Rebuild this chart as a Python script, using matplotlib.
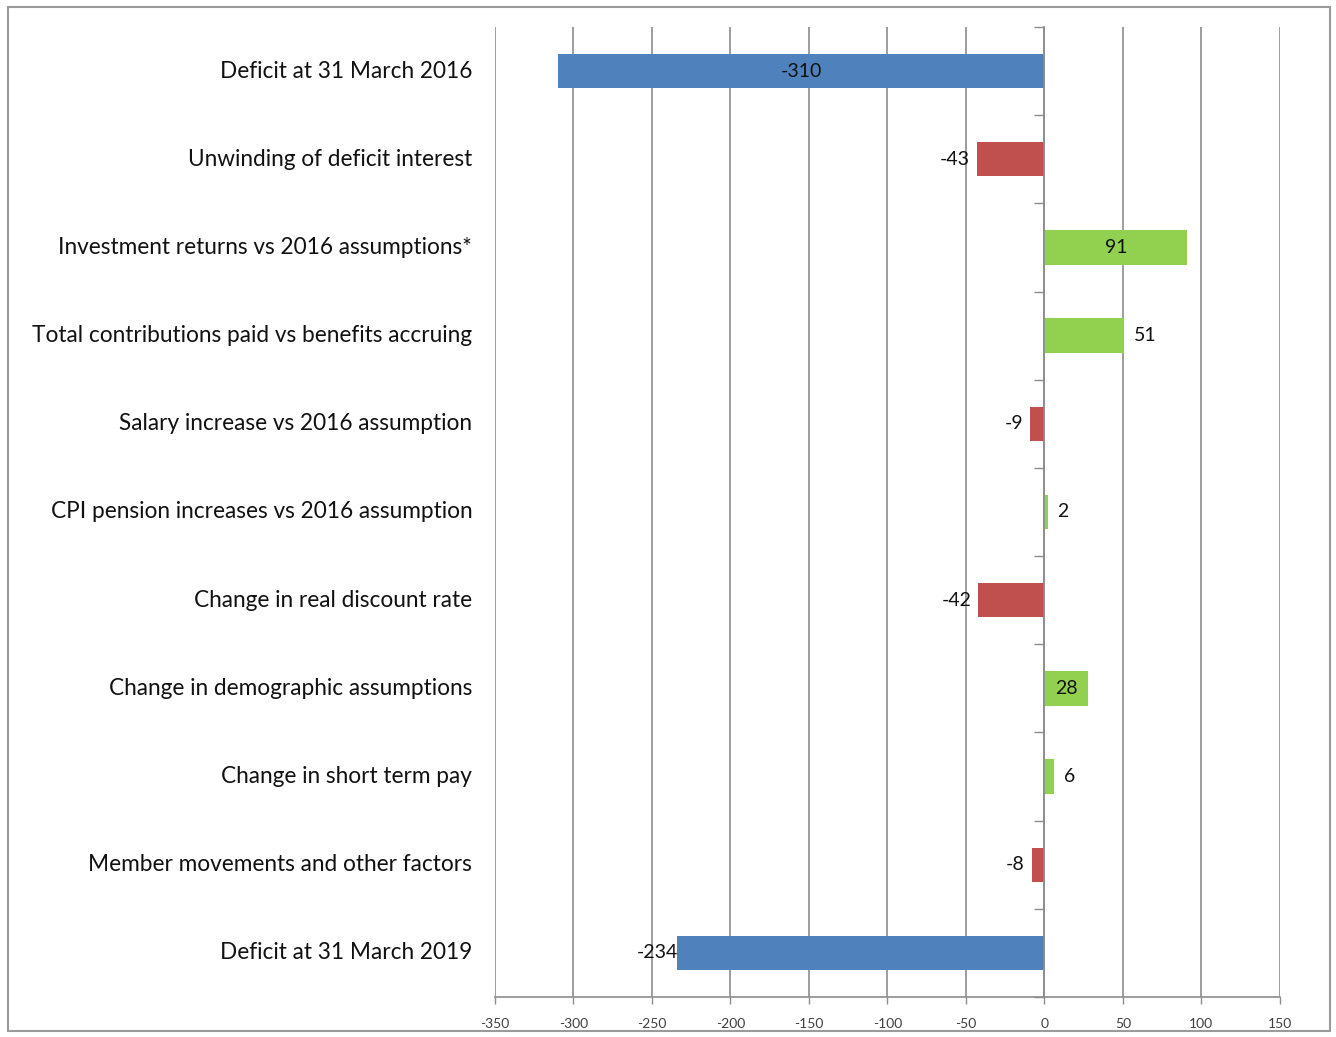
import matplotlib
matplotlib.use("Agg")
import matplotlib.pyplot as plt
import numpy as np
from matplotlib.patches import Rectangle

categories = [
    "Deficit at 31 March 2016",
    "Unwinding of deficit interest",
    "Investment returns vs 2016 assumptions*",
    "Total contributions paid vs benefits accruing",
    "Salary increase vs 2016 assumption",
    "CPI pension increases vs 2016 assumption",
    "Change in real discount rate",
    "Change in demographic assumptions",
    "Change in short term pay",
    "Member movements and other factors",
    "Deficit at 31 March 2019",
]
values = [-310, -43, 91, 51, -9, 2, -42, 28, 6, -8, -234]
kinds = ["total", "change", "change", "change", "change", "change",
         "change", "change", "change", "change", "total"]
# where Excel put each data label
label_pos = ["center", "out", "center", "out", "out", "out",
             "out", "center", "out", "out", "end"]
x_ticks = [-350, -300, -250, -200, -150, -100, -50, 0, 50, 100, 150]

BLUE = "#4F81BD"
RED = "#C0504D"
GREEN = "#92D050"
GRID = "#8C8C8C"

plt.rcParams["font.family"] = ["Lato", "DejaVu Sans"]

fig = plt.figure(figsize=(13.36, 10.37), dpi=100)
ax = fig.add_axes([0.3705, 0.0386, 0.958 - 0.3705, 0.974 - 0.0386])

y = np.arange(len(categories))
colors = [BLUE if k == "total" else (GREEN if v > 0 else RED)
          for k, v in zip(kinds, values)]
ax.barh(y, values, height=0.39, color=colors, zorder=3)

ax.set_xlim(x_ticks[0], x_ticks[-1])
ax.set_ylim(len(categories) - 0.5, -0.5)
ax.set_xticks(x_ticks)
ax.set_xticklabels([str(t) for t in x_ticks], fontsize=10, color="#404040")
ax.tick_params(axis="x", length=5, color=GRID, width=1, pad=10)
ax.grid(axis="x", color=GRID, lw=1.2, zorder=0)
ax.set_axisbelow(True)

for s in ["top", "right"]:
    ax.spines[s].set_visible(False)
ax.spines["bottom"].set_color(GRID)
ax.spines["bottom"].set_linewidth(1.2)
# category axis sits on the zero line
ax.spines["left"].set_position(("data", 0))
ax.spines["left"].set_color(GRID)
ax.spines["left"].set_linewidth(1.2)
ax.spines["left"].set_zorder(4)
ax.set_yticks(np.arange(-0.5, len(categories), 1.0))
ax.set_yticklabels([])
ax.tick_params(axis="y", length=7, color=GRID, width=1)

for yi, name in zip(y, categories):
    ax.text(-0.029, yi, name, transform=ax.get_yaxis_transform(),
            ha="right", va="center", fontsize=16.3, color="#111111")

lbl = dict(va="center", fontsize=14, color="#111111", zorder=5)
for yi, v, pos in zip(y, values, label_pos):
    if pos == "center":
        ax.text(v / 2, yi, str(v), ha="center", **lbl)
    elif pos == "end":
        ax.annotate(str(v), (v, yi), xytext=(1, 0), textcoords="offset points",
                    ha="right", **lbl)
    else:
        off = 7 if v > 0 else -5
        ax.annotate(str(v), (v, yi), xytext=(off, 0), textcoords="offset points",
                    ha="left" if v > 0 else "right", **lbl)

# chart area border
fig.patches.append(Rectangle((8 / 1336, 1 - 1031 / 1037), 1322 / 1336, 1024 / 1037,
                             transform=fig.transFigure, fill=False,
                             edgecolor="#9a9a9a", lw=1.5))

fig.savefig("out.png", dpi=100)
plt.close(fig)
